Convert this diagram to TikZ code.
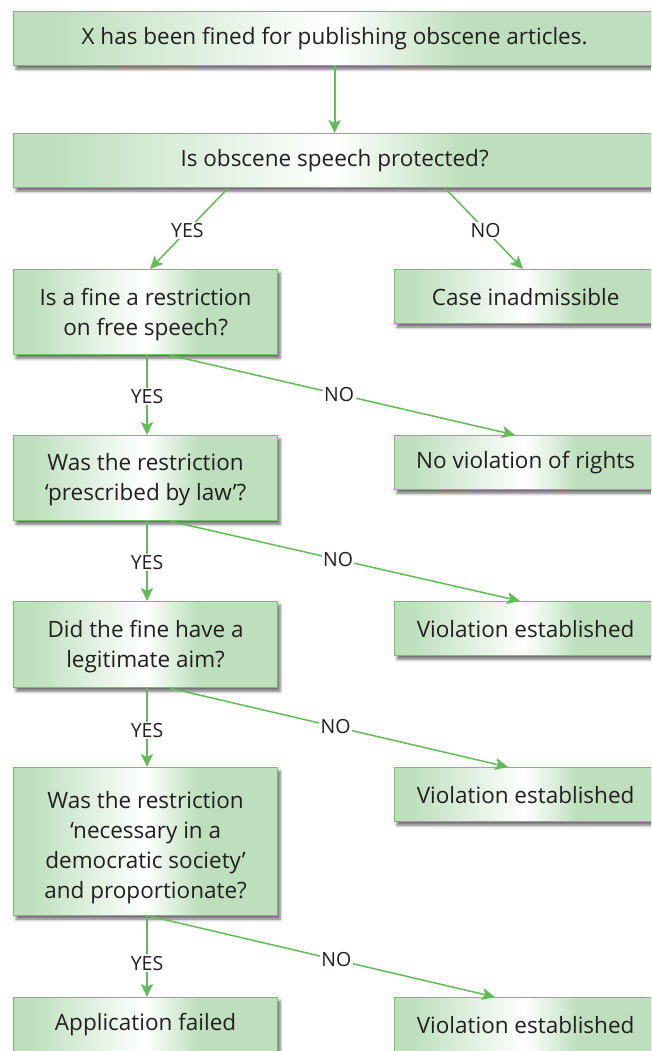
\documentclass[tikz,border=0pt]{standalone}
\usepackage{fontspec}
\setmainfont{Open Sans}
\usetikzlibrary{arrows.meta,shadows.blur}

\definecolor{boxgreen}{RGB}{189,223,189}
\definecolor{edgegreen}{RGB}{112,192,104}
\definecolor{linegreen}{RGB}{98,186,88}
\definecolor{ink}{RGB}{35,31,32}

% green at the edges, fading to white a little left of the centre
\pgfdeclarehorizontalshading{boxshade}{100bp}{%
  color(0bp)=(boxgreen); color(28bp)=(boxgreen); color(50bp)=(white);
  color(60bp)=(boxgreen); color(100bp)=(boxgreen)}

% invisible strut that pushes a multi-line text block slightly down
\newcommand{\topgap}[1]{\rule{0pt}{#1}}

\tikzset{
  box/.style={draw=edgegreen, line width=1.2pt, shading=boxshade,
    blur shadow={shadow xshift=2.5pt, shadow yshift=-3.5pt,
      shadow blur radius=3pt, shadow opacity=60},
    inner sep=0pt, align=center, text=ink, anchor=north west,
    font=\fontsize{22.5}{30}\selectfont},
  widebox/.style={box, minimum width=642pt, minimum height=54pt},
  leftbox/.style={box, minimum width=264pt},
  rightbox/.style={box, minimum width=262pt, minimum height=54pt},
  link/.style={draw=linegreen, line width=1.5pt,
    -{Stealth[length=13pt,width=12pt,inset=3pt]}},
  yeslink/.style={link, line width=2.2pt},
  lab/.style={fill=white, inner sep=1.5pt, text=ink,
    font=\fontsize{19.5}{20}\selectfont},
}

\begin{document}
\begin{tikzpicture}[x=1pt, y=-1pt]
  \useasboundingbox (0,0) rectangle (651,1051);
  \clip (0,0) rectangle (651,1051);

  % question boxes
  \node[widebox] (top) at (13,11) {X has been fined for publishing obscene articles.};
  \node[widebox] (q1) at (13,133) {Is obscene speech protected?};
  \node[leftbox, minimum height=85pt] (q2) at (13,269) {\topgap{22pt}Is a fine a restriction\\on free speech?};
  \node[leftbox, minimum height=85pt] (q3) at (13,435) {\topgap{20pt}Was the restriction\\‘prescribed by law’?};
  \node[leftbox, minimum height=86pt] (q4) at (13,601) {\topgap{21pt}Did the fine have a\\legitimate aim?};
  \node[leftbox, minimum height=148pt] (q5) at (13,767) {\topgap{29pt}Was the restriction\\‘necessary in a\\democratic society’\\and proportionate?};
  \node[leftbox, minimum height=54pt] (a1) at (13,997) {Application failed};

  % outcome boxes
  \node[rightbox] (r1) at (394,269) {Case inadmissible};
  \node[rightbox] (r2) at (394,435) {No violation of rights};
  \node[rightbox] (r3) at (394,601) {Violation established};
  \node[rightbox] (r4) at (394,767) {Violation established};
  \node[rightbox] (r5) at (394,997) {Violation established};

  % connectors
  \draw[yeslink] (top.south) -- (q1.north);

  \draw[link] ([xshift=215pt]q1.south west) -- node[lab, pos=0.52] {YES} ([xshift=137pt]q2.north west);
  \draw[link] ([xshift=432pt]q1.south west) -- node[lab, pos=0.52] {NO} ([xshift=129pt]r1.north west);

  \draw[yeslink] ([xshift=134pt]q2.south west) -- node[lab, pos=0.52] {YES} ([xshift=134pt]q3.north west);
  \draw[link] ([xshift=157pt]q2.south west) -- node[lab, pos=0.49] {NO} ([xshift=121pt]r2.north west);

  \draw[yeslink] ([xshift=134pt]q3.south west) -- node[lab, pos=0.52] {YES} ([xshift=134pt]q4.north west);
  \draw[link] ([xshift=157pt]q3.south west) -- node[lab, pos=0.48] {NO} ([xshift=126pt]r3.north west);

  \draw[yeslink] ([xshift=134pt]q4.south west) -- node[lab, pos=0.54] {YES} ([xshift=134pt]q5.north west);
  \draw[link] ([xshift=157pt]q4.south west) -- node[lab, pos=0.49] {NO} ([xshift=114pt]r4.north west);

  \draw[yeslink] ([xshift=134pt]q5.south west) -- node[lab, pos=0.58] {YES} ([xshift=134pt]a1.north west);
  \draw[link] ([xshift=137pt]q5.south west) -- node[lab, pos=0.54] {NO} ([xshift=101pt]r5.north west);
\end{tikzpicture}
\end{document}
